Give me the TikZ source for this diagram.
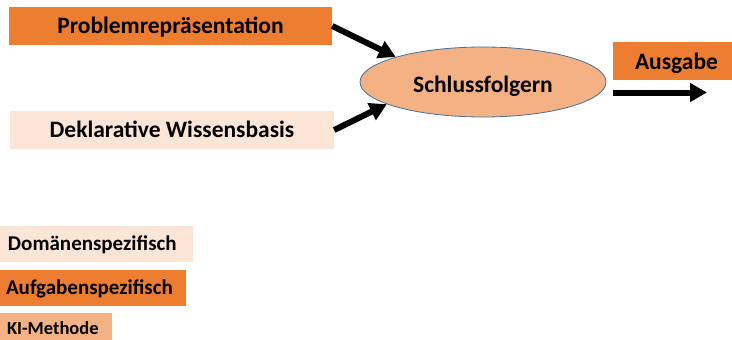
\documentclass[tikz,border=0pt]{standalone}
\usepackage{fontspec}
\setmainfont{Carlito}
\usetikzlibrary{shapes.geometric,arrows.meta}
\definecolor{orangeA}{HTML}{ED7D31}
\definecolor{peachL}{HTML}{FBE5D6}
\definecolor{peachM}{HTML}{F4B183}
\definecolor{edgeB}{HTML}{41719C}
\tikzset{
  bigbox/.style={rectangle, inner sep=0pt, minimum height=38pt, text height=15pt, text depth=0pt, font=\fontsize{23.5}{26}\selectfont\bfseries},
  legbox/.style={rectangle, inner ysep=0pt, inner xsep=0pt, minimum height=36pt, text height=13pt, text depth=0pt, align=left, font=\fontsize{21}{24}\selectfont\bfseries},
  fatarrow/.style={line width=6pt, -{Triangle[length=17pt,width=18pt]}}
}
\begin{document}
\begin{tikzpicture}[x=1pt,y=-1pt]
\useasboundingbox (0,0) rectangle (732,340);
\clip (0,0) rectangle (732,340);
\node[bigbox, fill=orangeA, minimum width=323pt] (prob) at (170.5,26) {Problemrepräsentation};
\node[bigbox, fill=peachL, minimum width=324pt] (dekl) at (172,130) {Deklarative Wissensbasis};
\node[ellipse, draw=edgeB, line width=0.8pt, fill=peachM, minimum width=246pt, minimum height=70pt, inner sep=0pt, text height=20pt, text depth=0pt, font=\fontsize{23.5}{26}\selectfont\bfseries] (ell) at (483,82) {Schlussfolgern};
\node[bigbox, fill=orangeA, minimum width=119pt, text height=16pt] (aus) at (672.5,61) {\hspace{8pt}Ausgabe};
\coordinate (outS) at (613,92.5);
\coordinate (outE) at (707,92.5);
\draw[fatarrow] (prob.east) -- (ell.164.5);
\draw[fatarrow] (dekl.east) -- (ell.193);
\draw[fatarrow] (outS) -- (outE);
\node[legbox, fill=peachL, minimum width=193pt, text width=177pt] (dom) at (96.5,244) {Domänenspezifisch};
\node[legbox, fill=orangeA, minimum width=186pt, text width=174pt] (auf) at (93,288) {Aufgabenspezifisch};
\node[legbox, fill=peachM, minimum width=112pt, minimum height=30pt, text height=12pt, text width=98pt, font=\fontsize{18.5}{21}\selectfont\bfseries] (ki) at (56,328) {KI-Methode};
\end{tikzpicture}
\end{document}
